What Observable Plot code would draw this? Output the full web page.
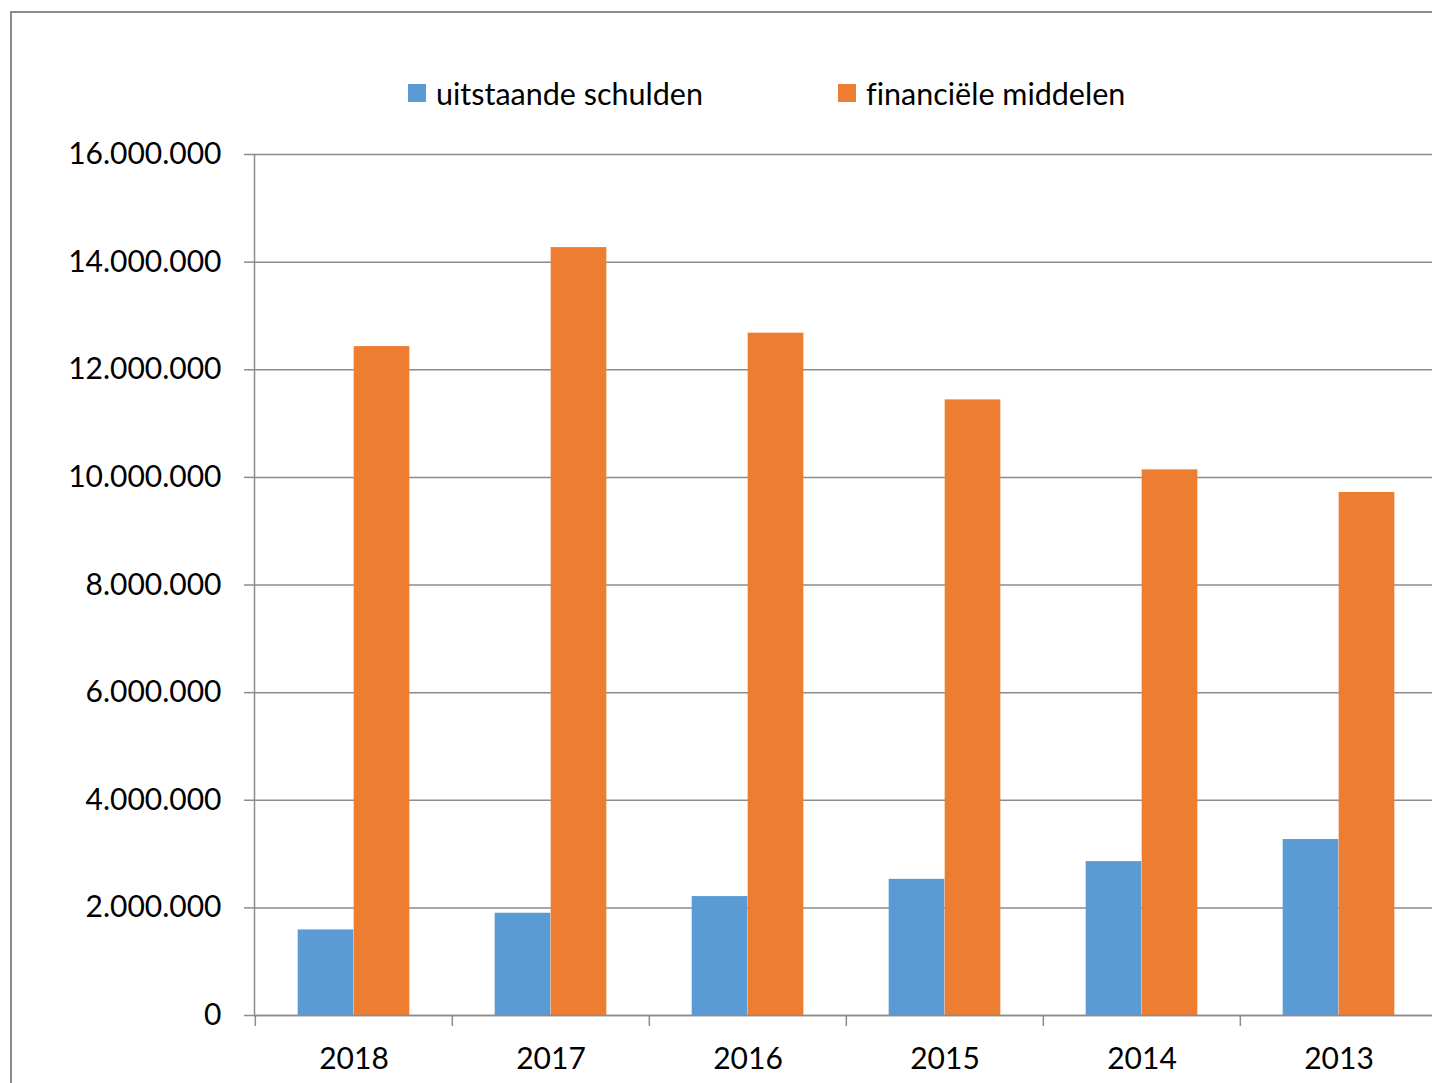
<!DOCTYPE html>
<html>
<head>
<meta charset="utf-8">
<script src="https://cdn.jsdelivr.net/npm/d3@7"></script>
<script src="https://cdn.jsdelivr.net/npm/@observablehq/plot@0.6"></script>
<style>
  html, body { margin: 0; padding: 0; background: #fff; overflow: hidden; }
  #wrap { position: relative; width: 1432px; height: 1083px; overflow: hidden; font-family: Lato, "Open Sans", sans-serif; font-variant-ligatures: none; }
  #frame { position: absolute; left: 10px; top: 11px; width: 2000px; height: 2000px; border: 2px solid #8c8c8c; box-sizing: border-box; }
  #legend { position: absolute; left: 0; top: 0; width: 1432px; height: 130px; }
  .item { position: absolute; top: 75px; display: flex; align-items: center; font-size: 30.5px; color: #000; white-space: nowrap; }
  .sw { width: 18px; height: 18px; margin-right: 10px; }
  #chart { position: absolute; left: 0; top: 130px; width: 1440px; height: 953px; }
  #chart svg { max-width: none !important; width: 1440px !important; height: 953px !important; font-variant-ligatures: none; }
</style>
</head>
<body>
<div id="wrap">
  <div id="frame"></div>
  <div id="legend"></div>
  <div id="chart"></div>
</div>
<script>
const years = ["2018", "2017", "2016", "2015", "2014", "2013"];
const seriesNames = ["uitstaande schulden", "financiële middelen"];
const seriesColors = ["#5B9BD5", "#ED7D31"];
const schulden = [1590000, 1900000, 2210000, 2530000, 2860000, 3270000];
const middelen = [12430000, 14270000, 12680000, 11440000, 10140000, 9720000];
const yTicks = [0, 2000000, 4000000, 6000000, 8000000, 10000000, 12000000, 14000000, 16000000];

const nl = d3.formatLocale({decimal: ",", thousands: ".", grouping: [3], currency: ["€", ""]});
const fmt = nl.format(",d");

// legend
const legend = document.getElementById("legend");
const legendLeft = [408, 838];
seriesNames.forEach((name, i) => {
  const it = document.createElement("div");
  it.className = "item";
  it.style.left = legendLeft[i] + "px";
  it.innerHTML = `<div class="sw" style="background:${seriesColors[i]}"></div><span>${name}</span>`;
  legend.appendChild(it);
});

const data1 = years.map((y, i) => ({year: y, value: schulden[i]}));
const data2 = years.map((y, i) => ({year: y, value: middelen[i]}));

const W = 1440, ML = 254, MR = 2;
const band = (W - ML - MR) / years.length;
const barW = 56;
const outer = (band - 2 * barW) / 2;

const chart = Plot.plot({
  width: W,
  height: 953,
  marginLeft: ML,
  marginRight: MR,
  marginTop: 24,
  marginBottom: 68,
  style: {fontFamily: "Lato, 'Open Sans', sans-serif", fontSize: "30px", color: "#000", overflow: "visible", maxWidth: "none"},
  x: {type: "band", domain: years, paddingInner: 0, paddingOuter: 0},
  y: {domain: [0, 16000000]},
  marks: [
    Plot.gridY(yTicks, {stroke: "#8c8c8c", strokeOpacity: 1, strokeWidth: 1.5}),
    Plot.barY(data1, {x: "year", y: "value", fill: seriesColors[0], insetLeft: outer, insetRight: band - outer - barW}),
    Plot.barY(data2, {x: "year", y: "value", fill: seriesColors[1], insetLeft: outer + barW, insetRight: outer}),
    Plot.ruleY([0], {stroke: "#8c8c8c", strokeWidth: 1.5}),
    Plot.frame({anchor: "left", stroke: "#8c8c8c", strokeWidth: 1.5}),
    Plot.axisY(yTicks, {tickSize: 10, tickPadding: 23, tickFormat: fmt, stroke: "#8c8c8c", strokeWidth: 1.5, fill: "#000", label: null}),
    Plot.axisX({tickSize: 11, text: null, dx: -band / 2, stroke: "#8c8c8c", strokeWidth: 1.5, label: null}),
    Plot.axisX({tickSize: 0, tickPadding: 32, fill: "#000", label: null})
  ]
});
chart.style.maxWidth = "none";
document.getElementById("chart").appendChild(chart);
</script>
</body>
</html>
